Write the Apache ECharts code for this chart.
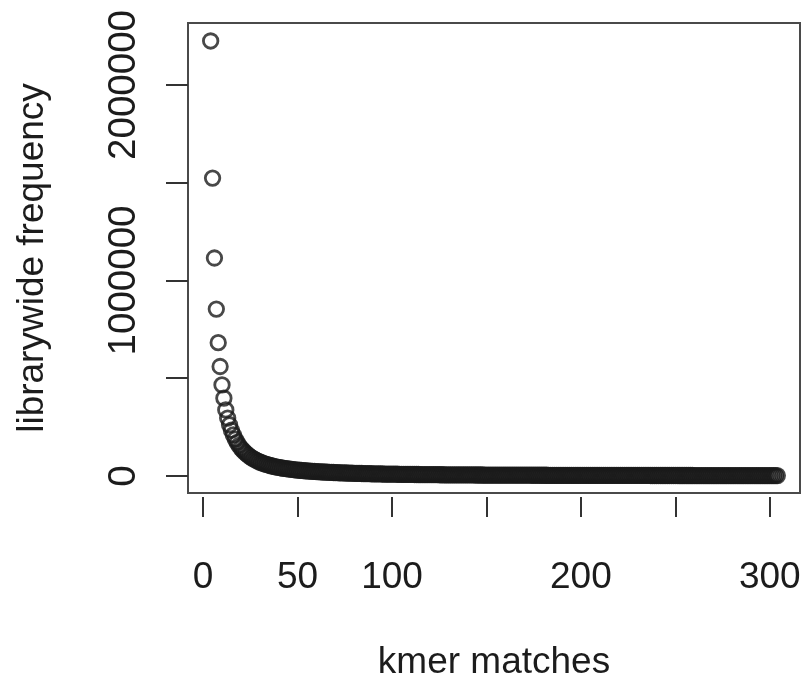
<!DOCTYPE html>
<html>
<head>
<meta charset="utf-8">
<script src="https://cdn.jsdelivr.net/npm/echarts@6/dist/echarts.min.js"></script>
<style>
  html, body { margin: 0; padding: 0; background: #ffffff; }
  #chart { width: 812px; height: 681px; }
</style>
</head>
<body>
<div id="chart"></div>
<script>
// kmer matches start at 4 and run in steps of one
const firstKmer = 4;

// librarywide frequency for kmer matches 4, 5, 6, ...
const frequency = [
  2225000, 1524000, 1115000, 854000, 682000, 560000, 466000, 398000, 338000,
  296000, 262000, 234000, 210000, 189000, 172000, 156000, 143000,
  132000, 122000, 113000, 105000, 98000, 91500, 86000, 80500, 75800, 71500,
  67600, 64000, 60700, 57700, 55000, 52300, 49900, 47600, 45600, 44000,
  42200, 40500, 39000, 37500, 36200, 34900, 33700, 32500, 31400, 30400,
  29400, 28500, 27700, 26800, 26000, 25300, 24600, 23900, 23200, 22500,
  21900, 21400, 20800, 20300, 19800, 19300, 18800, 18300, 17900, 17400,
  17000, 16600, 16200, 15900, 15500, 15200, 14800, 14500, 14200, 13800,
  13500, 13300, 13000, 12700, 12500, 12200, 12000, 11700, 11500, 11300,
  11000, 10800, 10600, 10400, 10200, 10000, 9850, 9680, 9520, 9350,
  9200, 9050, 8900, 8760, 8620, 8480, 8350, 8220, 8090, 7970,
  7850, 7740, 7620, 7510, 7400, 7300, 7200, 7100, 6990, 6880,
  6800, 6710, 6620, 6530, 6450, 6370, 6290, 6210, 6130, 6060,
  5990, 5920, 5850, 5780, 5710, 5650, 5590, 5520, 5460, 5400,
  5340, 5290, 5230, 5180, 5120, 5070, 5020, 4970, 4920, 4870,
  4820, 4770, 4730, 4680, 4640, 4590, 4550, 4510, 4470, 4420,
  4380, 4340, 4300, 4270, 4230, 4190, 4150, 4120, 4080, 4050,
  4010, 3980, 3950, 3910, 3880, 3850, 3820, 3790, 3760, 3730,
  3700, 3670, 3640, 3620, 3590, 3560, 3540, 3510, 3490, 3460,
  3440, 3410, 3390, 3370, 3340, 3320, 3300, 3280, 3260, 3230,
  3210, 3190, 3170, 3150, 3130, 3110, 3090, 3070, 3060, 3040,
  3020, 3000, 2980, 2970, 2950, 2930, 2920, 2900, 2880, 2870,
  2850, 2840, 2820, 2810, 2790, 2780, 2760, 2750, 2730, 2720,
  2710, 2690, 2680, 2670, 2650, 2640, 2630, 2620, 2600, 2590,
  2580, 2570, 2560, 2550, 2530, 2520, 2510, 2500, 2490, 2480,
  2470, 2460, 2450, 2440, 2430, 2420, 2410, 2400, 2390, 2380,
  2370, 2360, 2350, 2340, 2330, 2320, 2310, 2310, 2300, 2290,
  2280, 2270, 2260, 2250, 2250, 2240, 2230, 2220, 2210, 2210,
  2200, 2190, 2180, 2180, 2170, 2160, 2150, 2150, 2140, 2130,
  2130, 2120, 2110, 2110, 2100, 2090, 2090, 2080, 2070, 2070,
  2060, 2050, 2050, 2040
];

// axis ticks and labels
const xTickValues = [0, 50, 100, 150, 200, 250, 300];
const xLabelValues = [0, 50, 100, 200, 300];
const yTickValues = [0, 500000, 1000000, 1500000, 2000000];
const yLabelValues = [0, 1000000, 2000000];

const xTitle = 'kmer matches';
const yTitle = 'librarywide frequency';

const points = frequency.map((v, i) => [firstKmer + i, v]);

const fontFamily = '"Liberation Sans", Arial, sans-serif';
const inkColor = '#1c1c1c';

const chart = echarts.init(document.getElementById('chart'), null, { renderer: 'canvas' });
chart.setOption({
  animation: false,
  backgroundColor: '#ffffff',
  grid: {
    left: 188, top: 23, right: 12, bottom: 188,
    containLabel: false,
    outerBoundsMode: 'none',
    show: true,
    borderColor: '#4a4a4a',
    borderWidth: 2,
    backgroundColor: 'transparent'
  },
  xAxis: {
    type: 'value',
    min: -8,
    max: 316,
    offset: 4,
    axisLine: { show: false, onZero: false },
    splitLine: { show: false },
    axisTick: {
      show: true,
      inside: false,
      customValues: xTickValues,
      length: 20,
      lineStyle: { color: '#333', width: 2 }
    },
    axisLabel: {
      customValues: xLabelValues,
      formatter: (v) => String(v),
      margin: 62,
      fontSize: 37,
      fontFamily: fontFamily,
      color: inkColor
    },
    name: xTitle,
    nameLocation: 'middle',
    nameGap: 147,
    nameTextStyle: { fontSize: 37, fontFamily: fontFamily, color: inkColor }
  },
  yAxis: {
    type: 'value',
    min: -87000,
    max: 2317000,
    axisLine: { show: false, onZero: false },
    splitLine: { show: false },
    axisTick: {
      show: true,
      inside: false,
      customValues: yTickValues,
      length: 22,
      lineStyle: { color: '#333', width: 2 }
    },
    axisLabel: {
      customValues: yLabelValues,
      formatter: (v) => String(v),
      rotate: 90,
      margin: 44,
      fontSize: 38.5,
      fontFamily: fontFamily,
      color: inkColor
    },
    name: yTitle,
    nameLocation: 'middle',
    nameGap: 137,
    nameRotate: 90,
    nameTextStyle: { fontSize: 37, fontFamily: fontFamily, color: inkColor }
  },
  series: [{
    type: 'scatter',
    data: points,
    symbol: 'circle',
    symbolSize: 14.5,
    silent: true,
    itemStyle: {
      color: 'rgba(0,0,0,0)',
      borderColor: '#1a1a1a',
      borderWidth: 2.8
    }
  }]
});
</script>
</body>
</html>
